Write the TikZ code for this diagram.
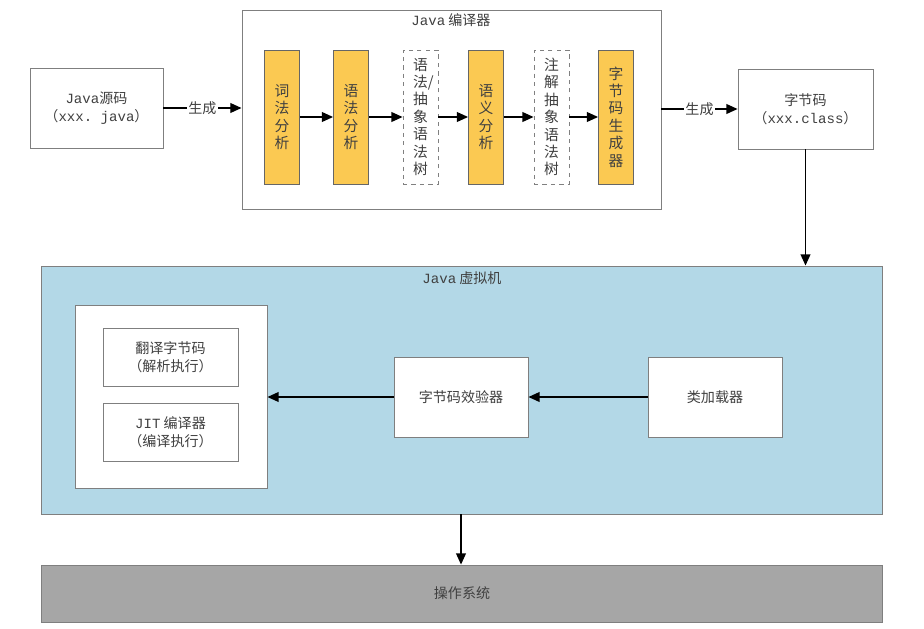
\documentclass[tikz,border=0pt]{standalone}
\usepackage{fontspec}
\setmainfont{Noto Sans CJK SC}
\setmonofont{Liberation Mono}
\usetikzlibrary{arrows.meta}
\definecolor{stageyellow}{HTML}{FBC952}
\definecolor{jvmblue}{HTML}{B3D8E7}
\definecolor{osgray}{HTML}{A6A6A6}
\definecolor{linegray}{HTML}{7F7F7F}
\definecolor{txtgray}{HTML}{404040}

\begin{document}
\begin{tikzpicture}[x=0.025cm,y=-0.025cm,
	font=\fontsize{10}{12.5}\selectfont,text=txtgray,
	box/.style={draw=linegray,line width=0.6pt,fill=white,align=center,inner sep=0pt},
	stage/.style={draw=black!60,line width=0.6pt,fill=stageyellow,align=center,inner sep=0pt,
		minimum width=0.875cm,minimum height=3.35cm,font=\fontsize{10.5}{12.4}\selectfont},
	tree/.style={stage,draw=black!50,fill=white,dashed},
	arr/.style={-{Triangle[length=8pt,width=7pt]},line width=1pt,draw=black},
	lbl/.style={fill=white,inner sep=1pt}]
	\useasboundingbox (0,0) rectangle (924,629);
	\node[box,minimum width=3.325cm,minimum height=2cm] (src) at (96.5,108)
		{\texttt{Java}源码\\（\texttt{xxx. java}）};
	\node[box,minimum width=10.475cm,minimum height=4.975cm] (comp) at (451.5,109.5) {};
	\node (comptitle) at (451,20) {\texttt{Java} 编译器};
	\foreach \N/\X/\T in {lex/282/词\\法\\分\\析, syn/351/语\\法\\分\\析,
		sem/486/语\\义\\分\\析, gen/616/字\\节\\码\\生\\成\\器}
	{\node[stage] (\N) at (\X,117) {\T};}
	\foreach \N/\X/\T in {ast/420.5/语\\法\rlap{/}\\抽\\象\\语\\法\\树,
		ann/551.5/注\\解\\抽\\象\\语\\法\\树}
	{\node[tree] (\N) at (\X,117) {\T};}
	\foreach \A/\B in {lex/syn, syn/ast, ast/sem, sem/ann, ann/gen}
	{\draw[arr] (\A) -- (\B);}
	\node[box,minimum width=3.375cm,minimum height=2cm] (cls) at (805.5,109)
		{字节码\\（\texttt{xxx.class}）};
	\draw[arr] (src.east) -- node[lbl] (gensrc) {生成} (src.east -| comp.west);
	\draw[arr] (comp.east |- cls.west) -- node[lbl] (gencls) {生成} (cls.west);

	\node[box,fill=jvmblue,minimum width=21cm,minimum height=6.2cm] (jvm) at (462,390) {};
	\node (jvmtitle) at (462,278) {\texttt{Java} 虚拟机};
	\node[box,minimum width=4.8cm,minimum height=4.575cm] (exec) at (171,396.5) {};
	\node[box,minimum width=3.375cm,minimum height=1.45cm] (interp) at (170.5,357)
		{翻译字节码\\（解析执行）};
	\node[box,minimum width=3.375cm,minimum height=1.45cm] (jit) at (170.5,432)
		{\texttt{JIT} 编译器\\（编译执行）};
	\node[box,minimum width=3.35cm,minimum height=2cm] (verify) at (461,397) {字节码效验器};
	\node[box,minimum width=3.35cm,minimum height=2cm] (loader) at (715,397) {类加载器};
	\draw[arr] (cls.south) -- (cls.south |- jvm.north);
	\draw[arr] (loader) -- (verify);
	\draw[arr] (verify) -- (verify -| exec.east);

	\node[box,fill=osgray,minimum width=21cm,minimum height=1.425cm] (os) at (462,593.5) {操作系统};
	\draw[arr] (jvm.south -| verify) -- (os.north -| verify);
\end{tikzpicture}
\end{document}
